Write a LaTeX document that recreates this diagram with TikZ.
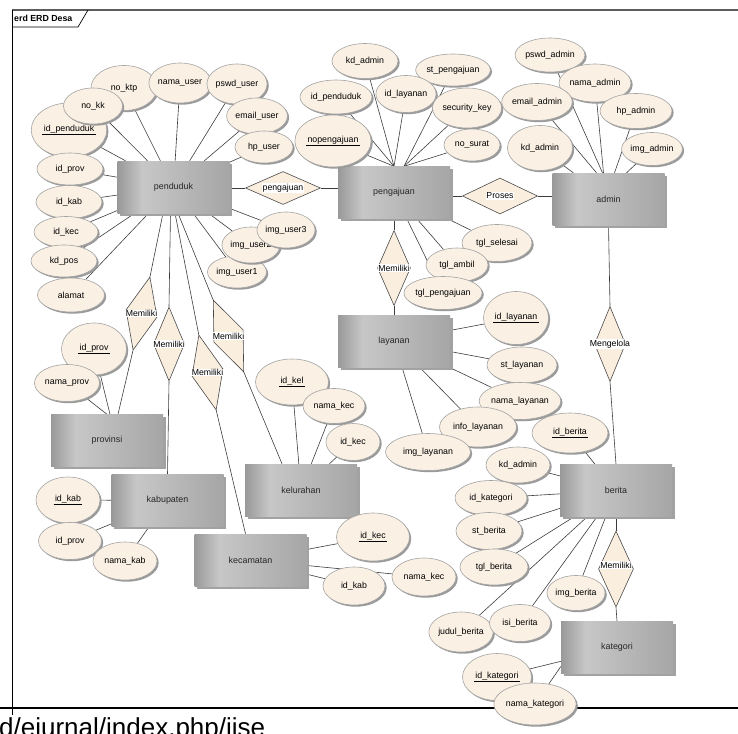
\documentclass[tikz,border=0pt]{standalone}
\usepackage{fontspec}
\setmainfont{Liberation Sans}
\usepackage{tikz}
\usetikzlibrary{
  positioning, shapes.geometric, shadows, backgrounds,
}
\definecolor{cAttr}      {HTML}{FAF0E4}
\definecolor{cAttrEdge}  {HTML}{A3A3A3}
\definecolor{cAttrShade} {HTML}{9A9A9A}
\definecolor{cRel}       {HTML}{FAEEDF}
\definecolor{cRelEdge}   {HTML}{4A4A4A}
\definecolor{cLine}      {HTML}{3C3C3C}
\definecolor{cEntShade}  {HTML}{A2A2A2}
\definecolor{cFrame}     {HTML}{5C5C5C}
\pgfdeclarehorizontalshading{entfill}{100bp}{%
  color(0bp)=(black!40); color(25bp)=(black!40); color(36bp)=(black!22);
  color(75bp)=(black!35); color(100bp)=(black!35)}
\newcommand{\keyattr}[1]{\underline{\hspace{1.5pt}#1\hspace{1.5pt}}}

\begin{document}
\begin{tikzpicture}[x=1pt, y=-1pt,
    ent/.style={rectangle, minimum width=112pt, minimum height=52pt, inner sep=0pt,
      shading=entfill, text=black!85, font=\fontsize{8.9}{10}\selectfont,
      drop shadow={shadow xshift=2.5pt, shadow yshift=-2.5pt, fill=cEntShade, opacity=1}},
    attr/.style 2 args={ellipse, draw=cAttrEdge, line width=0.6pt, fill=cAttr,
      minimum width=#1, minimum height=#2, inner sep=0pt, font=\fontsize{8.8}{10}\selectfont,
      drop shadow={shadow xshift=1.7pt, shadow yshift=-1.7pt, fill=cAttrShade, opacity=1}},
    rel/.style 2 args={diamond, draw=cRelEdge, line width=0.6pt, fill=cRel,
      minimum width=#1, minimum height=#2, inner sep=0pt},
    rellabel/.style={fill=white, inner sep=0.5pt, font=\fontsize{8.7}{10}\selectfont},
    conn/.style={draw=cLine, line width=0.6pt},
  ]
  \useasboundingbox (0,0) rectangle (738,733);

  % frame of the diagram and page rule
  \draw[cFrame, line width=1.3pt] (12,10) -- (738,10);
  \draw[black, line width=0.7pt] (12,10) -- (12,715);
  \draw[black, line width=0.7pt] (12,27) -- (78,27) -- (88,10);
  \node[font=\bfseries\fontsize{8.8}{10}\selectfont, anchor=west, inner sep=0pt] (title) at (14,18.5) {erd ERD Desa};
  \draw[black, line width=2.2pt] (0,708) -- (738,708);
  \node[font=\fontsize{26}{30}\selectfont, anchor=base west, inner sep=0pt] (url) at (-1,736) {d/ejurnal/index.php/jise};

  % entities
  \node[ent] (penduduk)  at (173.5,187)   {penduduk};
  \node[ent] (pengajuan) at (394,192.5)   {pengajuan};
  \node[ent] (admin)     at (608.5,199)   {admin};
  \node[ent] (layanan)   at (394,341)     {layanan};
  \node[ent] (provinsi)  at (107,440.5)   {provinsi};
  \node[ent] (kabupaten) at (167.5,500.5) {kabupaten};
  \node[ent] (kelurahan) at (301,490)     {kelurahan};
  \node[ent] (kecamatan) at (250.5,560)   {kecamatan};
  \node[ent] (berita)    at (616,490.5)   {berita};
  \node[ent] (kategori)  at (617,647.5)   {kategori};

  % attributes of penduduk
  \node[attr={73pt}{54pt}] (pd-idpenduduk) at (69,130)  {\keyattr{id\_penduduk}};
  \node[attr={66pt}{45pt}] (pd-noktp)      at (124,88)  {no\_ktp};
  \node[attr={59pt}{36pt}] (pd-nokk)       at (93,106)  {no\_kk};
  \node[attr={57pt}{40pt}] (pd-namauser)   at (180,83)  {nama\_user};
  \node[attr={58pt}{40pt}] (pd-pswduser)   at (237,84)  {pswd\_user};
  \node[attr={58pt}{36pt}] (pd-emailuser)  at (257,116) {email\_user};
  \node[attr={58pt}{32pt}] (pd-hpuser)     at (264,147) {hp\_user};
  \node[attr={66pt}{32pt}] (pd-idprov)     at (70,169)  {id\_prov};
  \node[attr={66pt}{33pt}] (pd-idkab)      at (69,202)  {id\_kab};
  \node[attr={64pt}{31pt}] (pd-idkec)      at (66,232)  {id\_kec};
  \node[attr={66pt}{32pt}] (pd-kdpos)      at (64,261)  {kd\_pos};
  \node[attr={67pt}{34pt}] (pd-alamat)     at (71,295)  {alamat};
  \node[attr={59pt}{32pt}] (pd-imguser1)   at (237,272) {img\_user1};
  \node[attr={58pt}{36pt}] (pd-imguser2)   at (251,245) {img\_user2};
  \node[attr={58pt}{36pt}] (pd-imguser3)   at (286,230) {img\_user3};

  % attributes of pengajuan
  \node[attr={66pt}{35pt}] (pj-kdadmin)      at (365,61)  {kd\_admin};
  \node[attr={72pt}{32pt}] (pj-stpengajuan)  at (453,70)  {st\_pengajuan};
  \node[attr={72pt}{34pt}] (pj-idpenduduk)   at (336,97)  {id\_penduduk};
  \node[attr={58pt}{37pt}] (pj-idlayanan)    at (406,94)  {id\_layanan};
  \node[attr={65pt}{40pt}] (pj-securitykey)  at (467,108) {security\_key};
  \node[attr={65pt}{52pt}] (pj-nopengajuan)  at (333,141) {\keyattr{nopengajuan}};
  \node[attr={56pt}{32pt}] (pj-nosurat)      at (472,145) {no\_surat};
  \node[attr={70pt}{37pt}] (pj-tglselesai)   at (497,243) {tgl\_selesai};
  \node[attr={62pt}{34pt}] (pj-tglambil)     at (457,265) {tgl\_ambil};
  \node[attr={68pt}{33pt}] (pj-tglpengajuan) at (443,293) {tgl\_pengajuan};

  % attributes of admin
  \node[attr={64pt}{34pt}] (ad-pswdadmin)  at (550,55)  {pswd\_admin};
  \node[attr={64pt}{38pt}] (ad-namaadmin)  at (595,83)  {nama\_admin};
  \node[attr={67pt}{37pt}] (ad-emailadmin) at (537,102) {email\_admin};
  \node[attr={72pt}{35pt}] (ad-hpadmin)    at (636,111) {hp\_admin};
  \node[attr={65pt}{45pt}] (ad-kdadmin)    at (540,148) {kd\_admin};
  \node[attr={57pt}{33pt}] (ad-imgadmin)   at (652,149) {img\_admin};

  % attributes of layanan
  \node[attr={65pt}{53pt}] (ly-idlayanan)   at (516,318) {\keyattr{id\_layanan}};
  \node[attr={70pt}{36pt}] (ly-stlayanan)   at (522,365) {st\_layanan};
  \node[attr={75pt}{37pt}] (ly-namalayanan) at (520,401) {nama\_layanan};
  \node[attr={77pt}{40pt}] (ly-infolayanan) at (478,427) {info\_layanan};
  \node[attr={85pt}{37pt}] (ly-imglayanan)  at (428,452) {img\_layanan};

  % attributes of berita
  \node[attr={76pt}{40pt}] (br-idberita)    at (570,433) {\keyattr{id\_berita}};
  \node[attr={64pt}{36pt}] (br-kdadmin)     at (518,465) {kd\_admin};
  \node[attr={72pt}{35pt}] (br-idkategori)  at (491,498) {id\_kategori};
  \node[attr={66pt}{37pt}] (br-stberita)    at (489,531) {st\_berita};
  \node[attr={68pt}{36pt}] (br-tglberita)   at (494,567) {tgl\_berita};
  \node[attr={55pt}{35pt}] (br-imgberita)   at (576,593) {img\_berita};
  \node[attr={62pt}{40pt}] (br-judulberita) at (461,632) {judul\_berita};
  \node[attr={61pt}{37pt}] (br-isiberita)   at (520,623) {isi\_berita};

  % attributes of kategori
  \node[attr={69pt}{47pt}] (kt-idkategori)   at (497,677) {\keyattr{id\_kategori}};
  \node[attr={65pt}{42pt}] (kt-namakategori) at (535,704) {nama\_kategori};

  % attributes of provinsi, kabupaten
  \node[attr={65pt}{52pt}] (pv-idprov)   at (94,349)  {\keyattr{id\_prov}};
  \node[attr={65pt}{37pt}] (pv-namaprov) at (67,383)  {nama\_prov};
  \node[attr={64pt}{46pt}] (kb-idkab)    at (68,500)  {\keyattr{id\_kab}};
  \node[attr={63pt}{37pt}] (kb-idprov)   at (70,541)  {id\_prov};
  \node[attr={64pt}{38pt}] (kb-namakab)  at (125,561) {nama\_kab};

  % attributes of kelurahan, kecamatan
  \node[attr={73pt}{46pt}] (kl-idkel)   at (292,382) {\keyattr{id\_kel}};
  \node[attr={62pt}{35pt}] (kl-namakec) at (334,406) {nama\_kec};
  \node[attr={54pt}{37pt}] (kl-idkec)   at (353,442) {id\_kec};
  \node[attr={73pt}{48pt}] (kc-idkec)   at (373,537) {\keyattr{id\_kec}};
  \node[attr={64pt}{38pt}] (kc-namakec) at (424,577) {nama\_kec};
  \node[attr={62pt}{38pt}] (kc-idkab)   at (354,586) {id\_kab};

  % relationships
  \node[rel={75pt}{33pt}] (r-pengajuan) at (283,188) {};
  \node[rel={75pt}{36pt}] (r-proses)    at (500,196) {};
  \node[rel={31pt}{75pt}] (r-mengelola) at (610,344) {};
  \node[rel={33pt}{75pt}] (r-pjly)      at (394,268) {};
  \node[rel={35pt}{76pt}] (r-brkt)      at (616,569) {};
  \node[rel={32pt}{75pt}, rotate=-13] (r-pdpv) at (141.5,313.5) {};
  \node[rel={31pt}{74pt}]             (r-pdkb) at (169,344) {};
  \node[rel={32pt}{77pt}, rotate=13]  (r-pdkc) at (207.5,372.5) {};
  \node[rel={32pt}{78pt}, rotate=23]  (r-pdkl) at (228.5,336) {};
  \node[rellabel] (l-pengajuan) at (r-pengajuan) {pengajuan};
  \node[rellabel] (l-proses)    at (r-proses)    {Proses};
  \node[rellabel] (l-mengelola) at (r-mengelola) {Mengelola};
  \node[rellabel] (l-pjly)      at (r-pjly)      {Memiliki};
  \node[rellabel] (l-brkt)      at ([yshift=4pt]r-brkt.center) {Memiliki};
  \node[rellabel] (l-pdpv)      at (r-pdpv)      {Memiliki};
  \node[rellabel] (l-pdkb)      at (r-pdkb)      {Memiliki};
  \node[rellabel] (l-pdkc)      at (r-pdkc)      {Memiliki};
  \node[rellabel] (l-pdkl)      at (r-pdkl)      {Memiliki};

  \begin{scope}[on background layer]
    % relationship lines
    \draw[conn] (penduduk.east |- r-pengajuan.west) -- (r-pengajuan.west);
    \draw[conn] (r-pengajuan.east) -- (r-pengajuan.east -| pengajuan.west);
    \draw[conn] (pengajuan.east |- r-proses.west) -- (r-proses.west);
    \draw[conn] (r-proses.east) -- (r-proses.east -| admin.west);
    \draw[conn] (admin.south) -- (r-mengelola.north);
    \draw[conn] (r-mengelola.south) -- (berita.north);
    \draw[conn] (pengajuan.south) -- (r-pjly.north);
    \draw[conn] (r-pjly.south) -- (layanan.north);
    \draw[conn] (berita.south) -- (r-brkt.north);
    \draw[conn] (r-brkt.south) -- (kategori.north);
    \draw[conn] ([xshift=-10.5pt]penduduk.south) -- (r-pdpv.north);
    \draw[conn] (r-pdpv.south) -- ([xshift=11pt]provinsi.north);
    \draw[conn] ([xshift=-3pt]penduduk.south) -- (r-pdkb.north);
    \draw[conn] (r-pdkb.south) -- (kabupaten.north);
    \draw[conn] ([xshift=1.5pt]penduduk.south) -- (r-pdkc.north);
    \draw[conn] (r-pdkc.south) -- ([xshift=-5pt]kecamatan.north);
    \draw[conn] ([xshift=4.5pt]penduduk.south) -- (r-pdkl.north);
    \draw[conn] (r-pdkl.south) -- ([xshift=-19pt]kelurahan.north);

    % attribute lines
    \foreach \a in {pd-idpenduduk, pd-noktp, pd-nokk, pd-namauser, pd-pswduser,
        pd-emailuser, pd-hpuser, pd-idprov, pd-idkab, pd-idkec, pd-kdpos,
        pd-alamat, pd-imguser1, pd-imguser2, pd-imguser3}
      \draw[conn] (\a) -- (penduduk);
    \foreach \a in {pj-kdadmin, pj-idpenduduk, pj-nopengajuan, pj-idlayanan}
      \draw[conn] (\a) -- (pengajuan.north);
    \foreach \a in {pj-stpengajuan, pj-securitykey, pj-nosurat}
      \draw[conn] (\a) -- ([xshift=10pt]pengajuan.north);
    \foreach \a in {pj-tglselesai, pj-tglambil, pj-tglpengajuan}
      \draw[conn] (\a) -- (pengajuan);
    \draw[conn] (ad-emailadmin) -- ([xshift=-12pt]admin.north);
    \draw[conn] (ad-pswdadmin) -- ([xshift=-6pt]admin.north);
    \draw[conn] (ad-namaadmin) -- ([xshift=-5pt]admin.north);
    \draw[conn] (ad-hpadmin) -- ([xshift=6pt]admin.north);
    \draw[conn] (ad-imgadmin) -- ([xshift=18pt]admin.north);
    \draw[conn] (ad-kdadmin) -- (admin);
    \foreach \a in {ly-idlayanan, ly-stlayanan, ly-namalayanan, ly-infolayanan, ly-imglayanan}
      \draw[conn] (\a) -- (layanan);
    \foreach \a in {br-idberita, br-kdadmin, br-idkategori, br-stberita,
        br-tglberita, br-imgberita, br-judulberita, br-isiberita}
      \draw[conn] (\a) -- (berita);
    \draw[conn] (kt-idkategori) -- (kategori);
    \draw[conn] (kt-namakategori) -- ([yshift=-19pt]kategori.west);
    \draw[conn] (pv-idprov) -- ([xshift=3pt]provinsi.north);
    \draw[conn] (pv-namaprov) -- (provinsi.north);
    \foreach \a in {kb-idkab, kb-idprov, kb-namakab}
      \draw[conn] (\a) -- (kabupaten);
    \foreach \a in {kl-idkel, kl-namakec, kl-idkec}
      \draw[conn] (\a) -- (kelurahan);
    \foreach \a in {kc-idkec, kc-namakec, kc-idkab}
      \draw[conn] (\a) -- (kecamatan);
  \end{scope}
\end{tikzpicture}
\end{document}
